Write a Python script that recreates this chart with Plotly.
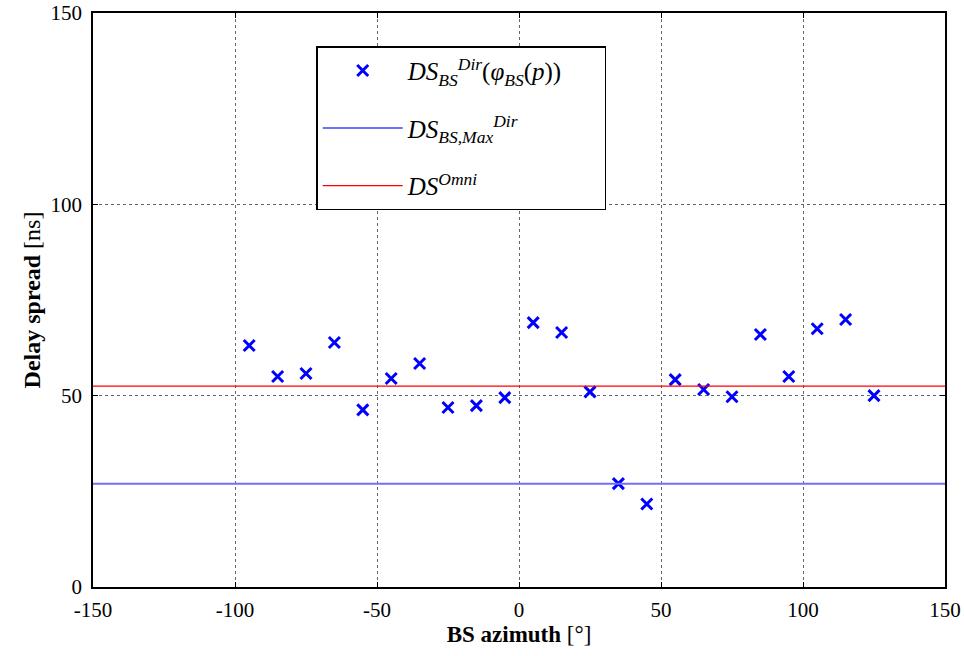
import plotly.graph_objects as go

azimuth = [-95, -85, -75, -65, -55, -45, -35, -25, -15, -5, 5, 15, 25, 35, 45, 55, 65, 75, 85, 95, 105, 115, 125]
ds_dir = [63.1, 55.0, 55.8, 63.9, 46.3, 54.5, 58.4, 46.9, 47.4, 49.5, 69.1, 66.5, 51.0, 27.0, 21.7,
          54.2, 51.6, 49.7, 66.0, 55.0, 67.5, 69.9, 50.0]
ds_dir_max = 52.5
ds_omni = 27.0
x_range = [-150, 150]
y_range = [0, 150]
x_ticks = [-150, -100, -50, 0, 50, 100, 150]
y_ticks = [0, 50, 100, 150]

font_family = "Liberation Serif, DejaVu Serif, serif"

fig = go.Figure()
fig.add_trace(go.Scatter(
    x=azimuth, y=ds_dir, mode="markers",
    marker=dict(symbol="x-thin", size=11, color="#0000ff", line=dict(width=3, color="#0000ff")),
    name="<i>DS</i><sub><i>BS</i></sub><sup><i>Dir</i></sup>(<i>φ<sub>BS</sub></i>(<i>p</i>))&nbsp;&nbsp;&nbsp;&nbsp;&nbsp;&nbsp;",
    legendgroup="a",
))
fig.add_trace(go.Scatter(
    x=x_range, y=[ds_omni, ds_omni], mode="lines",
    line=dict(color="#7070ff", width=2),
    name="<i>DS</i><sub><i>BS,Max</i></sub><sup><i>Dir</i></sup>",
    legendgroup="b",
))
fig.add_trace(go.Scatter(
    x=x_range, y=[ds_dir_max, ds_dir_max], mode="lines",
    line=dict(color="#ff0000", width=1.2),
    name="<i>DS</i><sup><i>Omni</i></sup>",
    legendgroup="c",
))

axis_common = dict(
    showline=True, linecolor="black", linewidth=1.5, mirror="ticks",
    ticks="inside", ticklen=5, tickcolor="black",
    showgrid=True, gridcolor="#666666", griddash="dot", gridwidth=1,
    zeroline=False, automargin=False,
    tickfont=dict(family=font_family, size=21, color="black"),
)

fig.update_xaxes(range=x_range, tickvals=x_ticks, ticktext=[str(v) for v in x_ticks],
                 ticklabelstandoff=3,
                 title=dict(text="<b>BS azimuth</b> [°]", font=dict(family=font_family, size=23, color="black"), standoff=4),
                 **axis_common)
fig.update_yaxes(range=y_range, tickvals=y_ticks, ticklabelstandoff=5,
                 title=dict(text="<b>Delay spread</b> [ns]", font=dict(family=font_family, size=24, color="black"), standoff=3),
                 **axis_common)

fig.update_layout(
    width=964, height=656,
    margin=dict(l=93, r=19, t=13, b=69),
    plot_bgcolor="white", paper_bgcolor="white",
    font=dict(family=font_family, color="black"),
    legend=dict(
        x=0.262, y=0.942, xanchor="left", yanchor="top",
        bgcolor="white", bordercolor="black", borderwidth=1.5,
        font=dict(family=font_family, size=25, color="black"),
        tracegroupgap=22, itemwidth=80,
    ),
)

fig.write_html("out.html", config={"displayModeBar": False},
               post_script="document.body.style.margin='0';document.body.style.overflow='hidden';")
